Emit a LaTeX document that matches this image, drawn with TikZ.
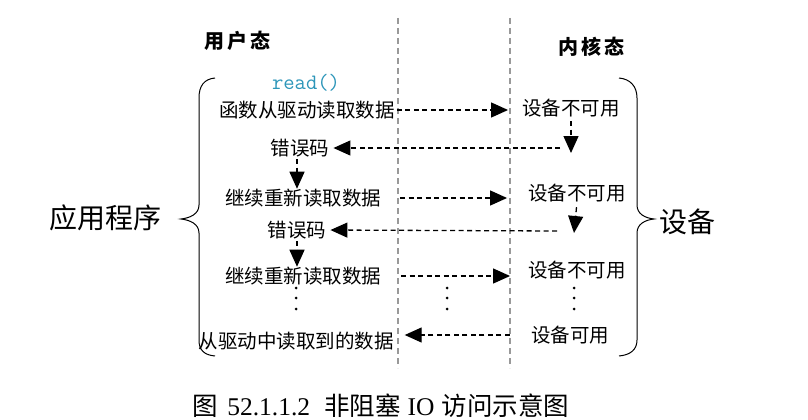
\documentclass[tikz,border=0pt]{standalone}
\usepackage{fontspec}
\setmainfont{Liberation Serif}
\newfontfamily\cjk{Noto Sans CJK SC}
\usetikzlibrary{arrows.meta}
\definecolor{readc}{RGB}{45,150,185}
\tikzset{
  lbl/.style={font=\cjk\fontsize{19.5}{19.5}\selectfont, inner sep=0pt},
  hdr/.style={font=\cjk\bfseries\fontsize{20}{20}\selectfont, inner sep=0pt},
  side/.style={font=\cjk\fontsize{28}{28}\selectfont, inner sep=0pt},
  lane/.style={draw=black!40, line width=1.3pt, dash pattern=on 6pt off 4pt},
  flow/.style={draw, line width=1.3pt, dash pattern=on 5pt off 3.5pt,
    -{Triangle[length=17pt,width=15pt]}},
  brace/.style={draw, line width=1pt},
  dot/.style={circle, fill, inner sep=0pt, minimum size=3pt}
}
\begin{document}
\begin{tikzpicture}[x=1pt,y=-1pt]
\useasboundingbox (0,0) rectangle (808,420);

% user / kernel lanes
\draw[lane] (398,18) -- (398,368);
\draw[lane] (510,18) -- (510,368);

% headings
\node[hdr] (us) at (237,41) {用\hspace{3pt}户\hspace{3pt}态};
\node[hdr] (ks) at (591,47) {内\hspace{3pt}核\hspace{3pt}态};
\node[font=\ttfamily\fontsize{22}{22}\selectfont, text=readc, inner sep=0pt] (rd) at (306,83) {read()};

% application side
\node[lbl] (a1) at (307,110) {函数从驱动读取数据};
\node[lbl] (e1) at (300,148) {错误码};
\node[lbl] (a2) at (303,198) {继续重新读取数据};
\node[lbl] (e2) at (297,230) {错误码};
\node[lbl] (a3) at (303,276) {继续重新读取数据};
\node[lbl] (a4) at (296,341) {从驱动中读取到的数据};

% device side
\node[lbl] (k1) at (571,108) {设备不可用};
\node[lbl] (k2) at (577,193) {设备不可用};
\node[lbl] (k3) at (577,270) {设备不可用};
\node[lbl] (k4) at (570,335) {设备可用};

% turning points of the kernel replies
\coordinate (d1) at (571,153);
\coordinate (r1) at (560,148);
\coordinate (d2) at (574,233);
\coordinate (r2) at (557,231);

% round 1
\draw[flow, shorten <=2pt, shorten >=14pt] (a1.east) -- (a1.east -| k1.west);
\draw[flow, shorten <=4pt] (k1.south) -- (d1);
\draw[flow, shorten >=4pt] (r1) -- (e1.east);
\draw[flow, shorten <=2pt] ([xshift=-3pt]e1.south) -- ([xshift=-3pt]e1.south |- a2.north);

% round 2
\draw[flow, shorten <=19pt, shorten >=21pt] (a2.east) -- (a2.east -| k2.west);
\draw[flow, shorten <=5pt] (k2.south) -- (d2);
\draw[flow, shorten >=4pt] (r2) -- (e2.east);
\draw[flow, shorten <=2pt] (e2.south) -- (e2.south |- a3.north);

% round 3
\draw[flow, shorten <=20pt, shorten >=18pt] (a3.east) -- (a3.east -| k3.west);

% final read
\draw[flow, shorten <=21pt, shorten >=11pt] (k4.west) -- (k4.west -| a4.east);

% ellipses
\foreach \x/\n in {296/l,447/m,574/r}{
  \node[dot] (\n1) at (\x,288) {};
  \node[dot] (\n2) at (\x,298) {};
  \node[dot] (\n3) at (\x,309) {};
}

% braces
\draw[brace] (215,78) .. controls (204,79) and (199,86) .. (199,98) -- (199,205)
  .. controls (199,214) and (190,218) .. (181,219)
  .. controls (190,220) and (199,224) .. (199,233) -- (199,340)
  .. controls (199,350) and (204,355) .. (215,356);
\draw[brace] (619,78) .. controls (630,79) and (637,86) .. (637,98) -- (637,205)
  .. controls (637,214) and (645,218) .. (654,219)
  .. controls (645,220) and (637,224) .. (637,233) -- (637,340)
  .. controls (637,350) and (630,355) .. (619,356);
\node[side] (app) at (105,218) {应用程序};
\node[side] (dev) at (687,222) {设备};

% caption
\node[font=\fontsize{25.5}{25.5}\selectfont, inner sep=0pt] (cap) at (381,406)
  {{\cjk 图}\hspace{9pt}52.1.1.2\hspace{14pt}{\cjk 非阻塞}\hspace{7pt}IO\hspace{7pt}{\cjk 访问示意图}};
\end{tikzpicture}
\end{document}
